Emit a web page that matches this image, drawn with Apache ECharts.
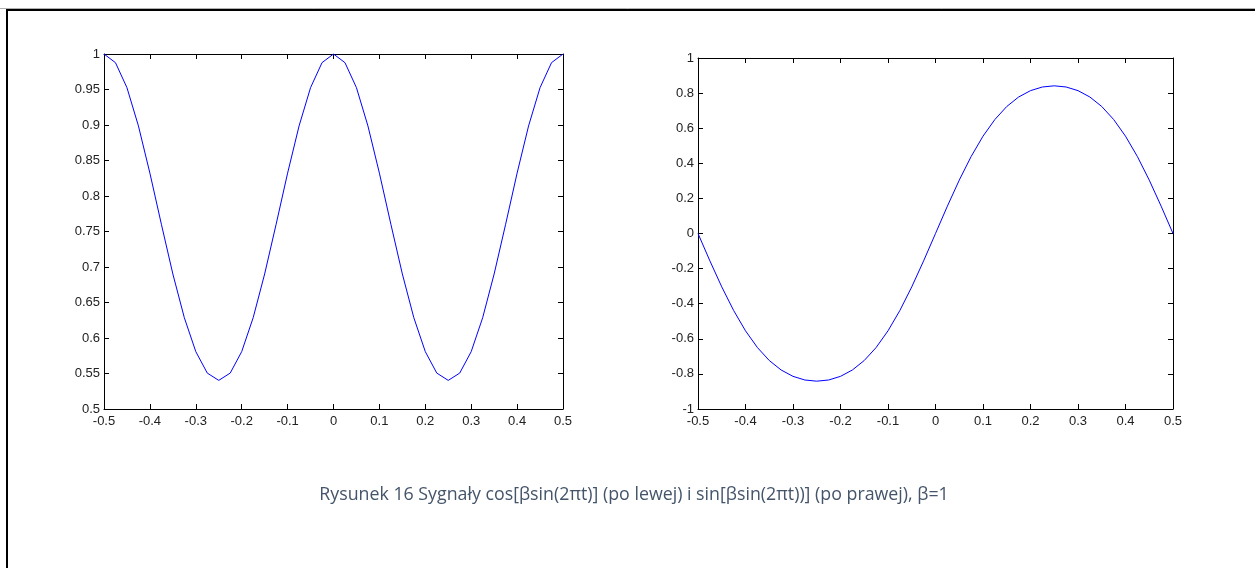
<!DOCTYPE html>
<html>
<head>
<meta charset="utf-8">
<script src="https://cdn.jsdelivr.net/npm/echarts@6/dist/echarts.min.js"></script>
<style>
html,body{margin:0;padding:0;background:#fff;}
#c{width:1255px;height:568px;}
</style>
</head>
<body>
<div id="c"></div>
<script>
// time samples t
var tValues = [-0.5,-0.475,-0.45,-0.425,-0.4,-0.375,-0.35,-0.325,-0.3,-0.275,-0.25,-0.225,-0.2,-0.175,-0.15,-0.125,-0.1,-0.075,-0.05,-0.025,0,
  0.025,0.05,0.075,0.1,0.125,0.15,0.175,0.2,0.225,0.25,0.275,0.3,0.325,0.35,0.375,0.4,0.425,0.45,0.475,0.5];
// left: cos[beta sin(2 pi t)]
var cosValues = [1,0.9878,0.9526,0.8987,0.8322,0.7602,0.6902,0.6286,0.5808,0.5506,0.5403,0.5506,0.5808,0.6286,0.6902,0.7602,0.8322,0.8987,0.9526,0.9878,1,
  0.9878,0.9526,0.8987,0.8322,0.7602,0.6902,0.6286,0.5808,0.5506,0.5403,0.5506,0.5808,0.6286,0.6902,0.7602,0.8322,0.8987,0.9526,0.9878,1];
// right: sin[beta sin(2 pi t)]
var sinValues = [0,-0.1558,-0.3041,-0.4386,-0.5545,-0.6496,-0.7236,-0.7777,-0.8140,-0.8348,-0.8415,-0.8348,-0.8140,-0.7777,-0.7236,-0.6496,-0.5545,-0.4386,-0.3041,-0.1558,0,
  0.1558,0.3041,0.4386,0.5545,0.6496,0.7236,0.7777,0.8140,0.8348,0.8415,0.8348,0.8140,0.7777,0.7236,0.6496,0.5545,0.4386,0.3041,0.1558,0];
var xTicks = {min:-0.5, max:0.5, interval:0.1};
var leftY = {min:0.5, max:1, interval:0.05};
var rightY = {min:-1, max:1, interval:0.2};
var caption = 'Rysunek 16 Sygnały cos[βsin(2πt)] (po lewej) i sin[βsin(2πt))] (po prawej), β=1';

function pairs(xs, ys){ return xs.map(function(x,i){return [x, ys[i]];}); }

var lblFont = {fontFamily:'Liberation Sans, Arial, sans-serif', fontSize:13, color:'#222'};
var axLine = {show:true, onZero:false, lineStyle:{color:'#000', width:1}};
var tick = {show:true, inside:true, length:5, lineStyle:{color:'#000', width:1}};

function fmt(v){ return String(Math.round(v*1000)/1000); }

function xAx(grid, pos, showLabel){
  return {type:'value', gridIndex:grid, position:pos, min:xTicks.min, max:xTicks.max, interval:xTicks.interval,
    axisLine:axLine, axisTick:tick, splitLine:{show:false},
    axisLabel:Object.assign({show:showLabel, margin:6, formatter:fmt}, lblFont)};
}
function yAx(grid, pos, r, showLabel){
  return {type:'value', gridIndex:grid, position:pos, min:r.min, max:r.max, interval:r.interval,
    axisLine:axLine, axisTick:tick, splitLine:{show:false},
    axisLabel:Object.assign({show:showLabel, margin:4, formatter:fmt}, lblFont)};
}

var chart = echarts.init(document.getElementById('c'), null, {renderer:'canvas'});
chart.setOption({
  animation:false,
  backgroundColor:'#fff',
  title:{text:caption, left:629, top:481, textAlign:'center',
    textStyle:{fontFamily:'Open Sans, Noto Sans, sans-serif', fontWeight:'normal', fontSize:17.8, color:'#44546A'}},
  grid:[
    {left:104, top:54, width:459, height:355},
    {left:698, top:58, width:475, height:351}
  ],
  xAxis:[xAx(0,'bottom',true), xAx(0,'top',false), xAx(1,'bottom',true), xAx(1,'top',false)],
  yAxis:[yAx(0,'left',leftY,true), yAx(0,'right',leftY,false), yAx(1,'left',rightY,true), yAx(1,'right',rightY,false)],
  graphic:[
    {type:'line', shape:{x1:0,y1:8.5,x2:1255,y2:8.5}, style:{stroke:'#b0b0b0', lineWidth:1}},
    {type:'line', shape:{x1:7,y1:10,x2:1255,y2:10}, style:{stroke:'#000', lineWidth:2}},
    {type:'line', shape:{x1:7,y1:9,x2:7,y2:568}, style:{stroke:'#000', lineWidth:2}}
  ],
  series:[
    {type:'line', xAxisIndex:0, yAxisIndex:0, data:pairs(tValues,cosValues), showSymbol:false, smooth:false,
      lineStyle:{color:'#0000ff', width:1}},
    {type:'line', xAxisIndex:2, yAxisIndex:2, data:pairs(tValues,sinValues), showSymbol:false, smooth:false,
      lineStyle:{color:'#0000ff', width:1}}
  ]
});
</script>
</body>
</html>
